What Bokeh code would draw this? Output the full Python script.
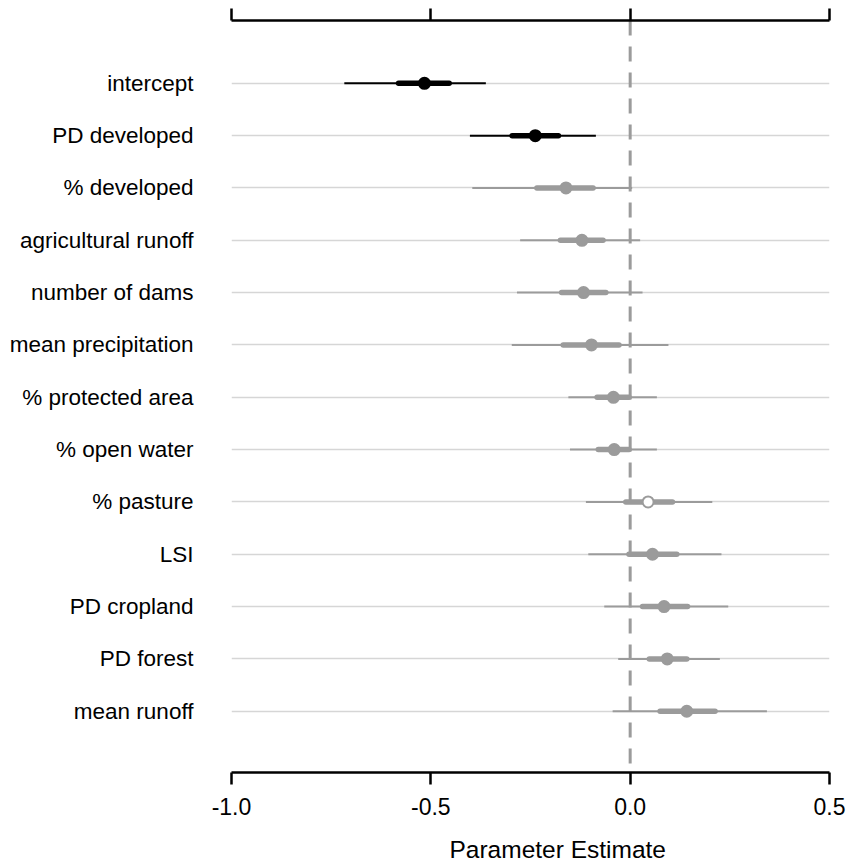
from bokeh.plotting import figure
from bokeh.models import ColumnDataSource, FixedTicker, LinearAxis, Range1d, Span
from bokeh.embed import file_html
from bokeh.resources import INLINE

labels = ["intercept", "PD developed", "% developed", "agricultural runoff",
          "number of dams", "mean precipitation", "% protected area",
          "% open water", "% pasture", "LSI", "PD cropland", "PD forest",
          "mean runoff"]
est = [-0.516, -0.238, -0.161, -0.121, -0.117, -0.097, -0.042, -0.040,
       0.045, 0.056, 0.085, 0.093, 0.142]
lo95 = [-0.717, -0.402, -0.396, -0.276, -0.284, -0.297, -0.155, -0.151,
        -0.111, -0.105, -0.065, -0.030, -0.044]
hi95 = [-0.362, -0.086, 0.005, 0.025, 0.031, 0.096, 0.067, 0.067,
        0.206, 0.229, 0.246, 0.225, 0.343]
lo50 = [-0.581, -0.296, -0.234, -0.175, -0.172, -0.168, -0.083, -0.080,
        -0.011, -0.003, 0.031, 0.048, 0.075]
hi50 = [-0.454, -0.180, -0.093, -0.068, -0.061, -0.028, -0.003, -0.003,
        0.106, 0.117, 0.144, 0.142, 0.213]
significant = [True, True, False, False, False, False, False, False,
               False, False, False, False, False]
open_marker = [False, False, False, False, False, False, False, False,
               True, False, False, False, False]
x_ticks = [-1.0, -0.5, 0.0, 0.5]
x_tick_labels = ["-1.0", "-0.5", "0.0", "0.5"]
x_title = "Parameter Estimate"

BLACK = "#000000"
GREY = "#9b9b9b"
FONT = "Liberation Sans"

n = len(labels)
ys = [n - i for i in range(n)]
colors = [BLACK if s else GREY for s in significant]
fills = ["#ffffff" if o else c for o, c in zip(open_marker, colors)]

src = ColumnDataSource(dict(y=ys, est=est, lo95=lo95, hi95=hi95, lo50=lo50,
                            hi50=hi50, color=colors, fill=fills))

p = figure(frame_width=598, frame_height=752,
           x_range=Range1d(-1.0, 0.5), y_range=Range1d(-0.17, 14.2),
           output_backend="svg", toolbar_location=None,
           min_border_left=231, min_border_right=17, min_border_top=20,
           min_border_bottom=10)
p.outline_line_color = None
p.background_fill_color = "white"
p.xgrid.visible = False

# left axis: labels only
ya = p.yaxis[0]
ya.ticker = FixedTicker(ticks=ys)
ya.major_label_overrides = {y: l for y, l in zip(ys, labels)}
ya.axis_line_color = None
ya.major_tick_line_color = None
ya.minor_tick_line_color = None
ya.major_tick_out = 0
ya.major_tick_in = 0
ya.major_label_standoff = 38
ya.major_label_text_font = FONT
ya.major_label_text_font_size = "22.5px"
ya.major_label_text_color = BLACK

p.ygrid.ticker = FixedTicker(ticks=ys)
p.ygrid.grid_line_color = "#d6d6d6"
p.ygrid.grid_line_width = 1.5

# bottom axis
xa = p.xaxis[0]
xa.ticker = FixedTicker(ticks=x_ticks)
xa.major_label_overrides = {t: l for t, l in zip(x_ticks, x_tick_labels)}
xa.axis_line_width = 2.5
xa.axis_line_color = BLACK
xa.major_tick_line_width = 2.5
xa.major_tick_line_color = BLACK
xa.major_tick_out = 12
xa.major_tick_in = 0
xa.minor_tick_line_color = None
xa.major_label_standoff = 13
xa.major_label_text_font = FONT
xa.major_label_text_font_size = "23px"
xa.major_label_text_color = BLACK
# leading no-break spaces push the centred title a little right, as in the original
xa.axis_label = "\u00a0" * 8 + x_title
xa.axis_label_text_font = FONT
xa.axis_label_text_font_size = "24.5px"
xa.axis_label_text_font_style = "normal"
xa.axis_label_text_color = BLACK
xa.axis_label_standoff = 18

# top axis: ticks only
ta = LinearAxis(ticker=FixedTicker(ticks=x_ticks))
ta.axis_line_width = 2.5
ta.axis_line_color = BLACK
ta.major_tick_line_width = 2.5
ta.major_tick_line_color = BLACK
ta.major_tick_out = 12
ta.major_tick_in = 0
ta.minor_tick_line_color = None
ta.major_label_standoff = 0
ta.major_label_text_font_size = "0px"
ta.major_label_text_alpha = 0
p.add_layout(ta, "above")

# zero reference line
p.add_layout(Span(location=0, dimension="height", line_color=GREY,
                  line_width=3, line_dash="15 11", level="underlay"))

# intervals
p.segment(x0="lo95", x1="hi95", y0="y", y1="y", source=src,
          line_color="color", line_width=2)
p.segment(x0="lo50", x1="hi50", y0="y", y1="y", source=src,
          line_color="color", line_width=5.5, line_cap="round")
p.scatter(x="est", y="y", source=src, size=11, fill_color="fill",
          line_color="color", line_width=2)

open("out.html", "w").write(file_html(p, INLINE))
